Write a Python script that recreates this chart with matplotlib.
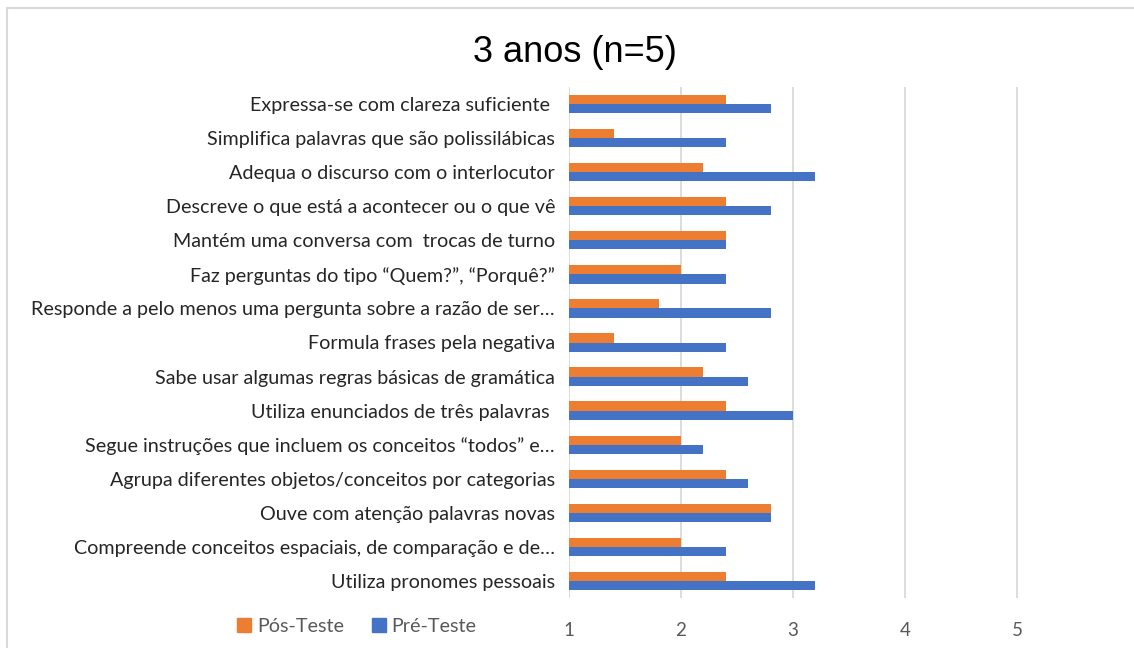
import matplotlib
matplotlib.use("Agg")
import matplotlib.pyplot as plt
from matplotlib.patches import Rectangle, Patch
import numpy as np

# categories listed bottom -> top, as in the chart
categorias = [
    "Utiliza pronomes pessoais",
    "Compreende conceitos espaciais, de comparação e de…",
    "Ouve com atenção palavras novas",
    "Agrupa diferentes objetos/conceitos por categorias",
    "Segue instruções que incluem os conceitos “todos” e…",
    "Utiliza enunciados de três palavras ",
    "Sabe usar algumas regras básicas de gramática",
    "Formula frases pela negativa",
    "Responde a pelo menos uma pergunta sobre a razão de ser…",
    "Faz perguntas do tipo “Quem?”, “Porquê?”",
    "Mantém uma conversa com  trocas de turno",
    "Descreve o que está a acontecer ou o que vê",
    "Adequa o discurso com o interlocutor",
    "Simplifica palavras que são polissilábicas",
    "Expressa-se com clareza suficiente ",
]
pre_teste = [3.2, 2.4, 2.8, 2.6, 2.2, 3.0, 2.6, 2.4, 2.8, 2.4, 2.4, 2.8, 3.2, 2.4, 2.8]
pos_teste = [2.4, 2.0, 2.8, 2.4, 2.0, 2.4, 2.2, 1.4, 1.8, 2.0, 2.4, 2.4, 2.2, 1.4, 2.4]
ticks_x = [1, 2, 3, 4, 5]

cor_pos = "#ED7D31"
cor_pre = "#4472C4"
W, H = 1134, 648

fig = plt.figure(figsize=(W / 100, H / 100), dpi=100)
fig.patches.append(Rectangle((7 / W, -0.1), 1.2, 1 - 8 / H + 0.1, transform=fig.transFigure,
                             fill=False, edgecolor="#D9D9D9", linewidth=1.5))

ax = fig.add_axes([569 / W, 1 - 598 / H, (1073 - 569) / W, (598 - 87) / H])
y = np.arange(len(categorias))
h = 0.27
ax.barh(y + h / 2, np.array(pos_teste) - 1, left=1, height=h, color=cor_pos, zorder=3)
ax.barh(y - h / 2, np.array(pre_teste) - 1, left=1, height=h, color=cor_pre, zorder=3)

ax.set_xlim(1, 5.5)
ax.set_ylim(-0.5, len(categorias) - 0.5)
ax.set_xticks(ticks_x)
ax.set_xticklabels([str(t) for t in ticks_x], fontsize=13.5, color="#595959", family="Lato")
ax.set_yticks(y)
ax.set_yticklabels(categorias, fontsize=14.2, color="#262626", family="Lato")
ax.tick_params(axis="x", length=0, pad=17)
ax.tick_params(axis="y", length=0, pad=10)
ax.grid(axis="x", color="#D9D9D9", linewidth=1.3, zorder=0)
for s in ax.spines.values():
    s.set_visible(False)

fig.text(575 / W, 1 - 52 / H, "3 anos (n=5)", ha="center", va="center",
         fontsize=26, family="Liberation Sans", color="black")

handles = [Patch(color=cor_pos, label="Pós-Teste"), Patch(color=cor_pre, label="Pré-Teste")]
fig.legend(handles=handles, loc="center", bbox_to_anchor=(357 / W, 1 - 626 / H), ncol=2,
           frameon=False, prop={"family": "Lato", "size": 14.2}, labelcolor="#595959",
           handlelength=0.7, handleheight=0.7, handletextpad=0.3, columnspacing=1.4)

fig.savefig("out.png", dpi=100)
